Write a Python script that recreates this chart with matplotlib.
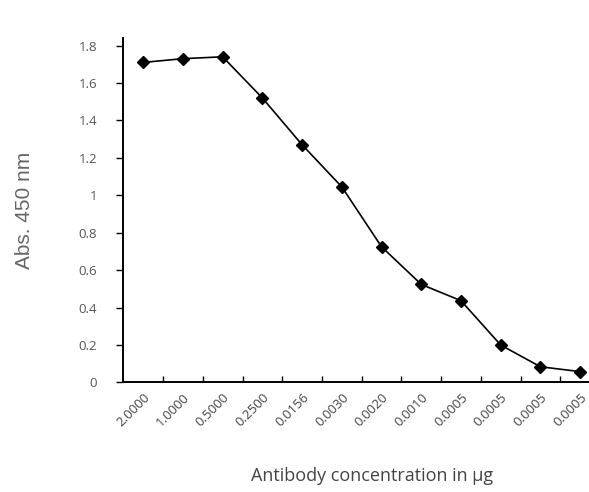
import matplotlib.pyplot as plt

# concentration labels (x categories) and absorbance readings
conc_labels = ['2.0000', '1.0000', '0.5000', '0.2500', '0.0156', '0.0030',
               '0.0020', '0.0010', '0.0005', '0.0005', '0.0005', '0.0005']
absorbance = [1.71, 1.73, 1.74, 1.52, 1.27, 1.045, 0.725, 0.524, 0.437, 0.20, 0.084, 0.058]
y_ticks = [0, 0.2, 0.4, 0.6, 0.8, 1.0, 1.2, 1.4, 1.6, 1.8]
y_tick_labels = ['0', '0.2', '0.4', '0.6', '0.8', '1', '1.2', '1.4', '1.6', '1.8']

plt.rcParams['font.family'] = ['Open Sans', 'DejaVu Sans']

fig = plt.figure(figsize=(5.89, 4.92), dpi=100)
# right edge runs past the image, like the cropped original
ax = fig.add_axes([0.2094, 0.2226, 0.8093, 0.700])

x = list(range(len(absorbance)))
ax.plot(x, absorbance, color='black', linewidth=1.2, marker='D',
        markersize=6, markerfacecolor='black', markeredgecolor='black')

ax.set_xlim(-0.5, len(x) - 0.5)
ax.set_ylim(0, 1.84)

for side in ['top', 'right']:
    ax.spines[side].set_visible(False)
ax.spines['left'].set_linewidth(1.4)
ax.spines['bottom'].set_linewidth(1.4)

ax.set_yticks(y_ticks)
ax.set_yticklabels(y_tick_labels)
ax.tick_params(axis='y', direction='out', length=5, width=1, pad=14,
               labelsize=9.5, labelcolor='#555555')

# category labels at points, small inside ticks at boundaries
ax.set_xticks(x)
ax.set_xticklabels(conc_labels, rotation=45, ha='right', rotation_mode='anchor')
ax.tick_params(axis='x', which='major', length=0, pad=6, labelsize=9.5,
               labelcolor='#444444')
ax.set_xticks([i + 0.5 for i in x[:-1]], minor=True)
ax.tick_params(axis='x', which='minor', direction='in', length=4, width=1)

ax.set_ylabel('Abs. 450 nm', fontsize=15, color='#666666', labelpad=32,
              family=['Liberation Sans', 'DejaVu Sans'])
fig.text(0.632, 0.022, 'Antibody concentration in µg', fontsize=13,
         color='#444444', ha='center')

fig.savefig('out.png', dpi=100)
